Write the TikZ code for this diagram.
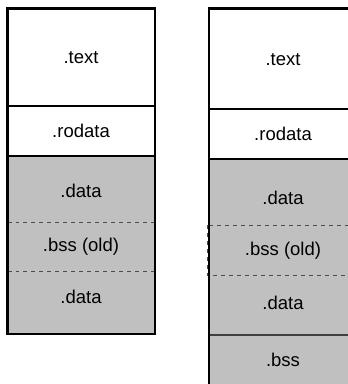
\documentclass[tikz,border=0pt]{standalone}
\usepackage{fontspec}
\setmainfont{Liberation Sans}
\begin{document}
\begin{tikzpicture}[x=1pt, y=-1pt]
    % Define styles
    \tikzset{
        outline/.style={line width=2.5pt, black},
        divider/.style={line width=2pt, black},
        thindivider/.style={line width=1.3pt, black!75},
        olddivider/.style={line width=0.9pt, black!70, dash pattern=on 4pt off 4pt},
        datafill/.style={fill={rgb,255:red,192;green,192;blue,192}},
        sec/.style={font=\fontsize{18.5}{22}\selectfont, inner sep=0pt}
    }

    % Canvas
    \useasboundingbox (0,0) rectangle (348,384);
    \clip (0,0) rectangle (348,384);

    % Shaded data areas
    \fill[datafill] (7.5,156) rectangle (155,334);
    \fill[datafill] (209,159) rectangle (362,400);

    % Left layout (before)
    \draw[olddivider] (7.5,222) -- (155,222);
    \draw[olddivider] (7.5,271) -- (155,271);
    \draw[divider] (7.5,106) -- (155,106);
    \draw[divider] (7.5,156) -- (155,156);
    \draw[outline] (7.5,8.5) rectangle (155,334);

    % Right layout (after)
    \draw[olddivider] (207,225) rectangle (364,275);
    \draw[divider] (209,109) -- (362,109);
    \draw[divider] (209,159) -- (362,159);
    \draw[thindivider] (209,335) -- (362,335);
    \draw[outline] (209,400) -- (209,8.5) -- (360,8.5) -- (360,400);

    % Section labels, left
    \node[sec] (ltext) at (81,58) {.text};
    \node[sec] (lrodata) at (81,131) {.rodata};
    \node[sec] (ldata) at (81,191) {.data};
    \node[sec] (lbssold) at (81,247) {.bss (old)};
    \node[sec] (ldatatwo) at (81,297) {.data};

    % Section labels, right
    \node[sec] (rtext) at (283,60) {.text};
    \node[sec] (rrodata) at (283,134) {.rodata};
    \node[sec] (rdata) at (283,198) {.data};
    \node[sec] (rbssold) at (283,251) {.bss (old)};
    \node[sec] (rdatatwo) at (283,303) {.data};
    \node[sec] (rbss) at (283,360) {.bss};
\end{tikzpicture}
\end{document}
